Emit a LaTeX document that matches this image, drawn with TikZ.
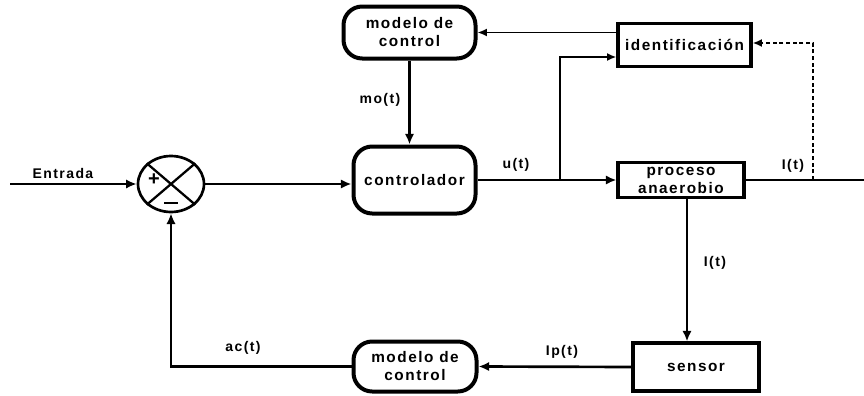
\documentclass[tikz,border=0pt]{standalone}
\usepackage{fontspec}
\setmainfont{Liberation Sans}
\newfontfamily\lblfont[LetterSpace=10]{Liberation Sans Bold}
\usetikzlibrary{arrows.meta,shapes.geometric}
\begin{document}
\begin{tikzpicture}[x=0.75pt,y=-0.75pt,
  every node/.style={font=\lblfont\fontsize{11.5}{13.5}\selectfont, inner sep=0pt},
  roundbox/.style={draw, line width=3pt, rounded corners=14pt, align=center},
  plainbox/.style={draw, line width=2.3pt, align=center},
  conn/.style={line width=2pt, -{Latex[length=8pt,width=7pt]}},
  thinconn/.style={line width=1.4pt, -{Latex[length=7pt,width=6pt]}},
  sig/.style={font=\lblfont\fontsize{10.5}{10.5}\selectfont}]
\useasboundingbox (0,0) rectangle (864,396);

% summing junction
\node[draw, ellipse, line width=2pt, minimum width=66*0.75pt, minimum height=56*0.75pt] (sum) at (171,184) {};
\draw[line width=1.7pt] (sum.north west) -- (sum.south east);
\draw[line width=1.7pt] (sum.north east) -- (sum.south west);
\node (plus) at (154,180) {\fontsize{15}{15}\selectfont +};
\coordinate (mleft) at (164,203);
\coordinate (mright) at (178,203);
\draw[line width=2pt] (mleft) -- (mright);

% blocks
\node[roundbox, minimum width=132*0.75pt, minimum height=52*0.75pt] (mtop) at (409.5,32.5) {modelo de\\control};
\node[roundbox, minimum width=122*0.75pt, minimum height=67*0.75pt] (ctrl) at (414.5,180) {controlador};
\node[plainbox, minimum width=133*0.75pt, minimum height=43*0.75pt] (ident) at (684.5,45) {identificación};
\node[plainbox, minimum width=126*0.75pt, minimum height=35*0.75pt] (proc) at (681,180) {proceso\\anaerobio};
\node[plainbox, minimum width=126*0.75pt, minimum height=48*0.75pt] (sens) at (696,367) {sensor};
\node[roundbox, minimum width=123*0.75pt, minimum height=50*0.75pt] (mbot) at (415,366.5) {modelo de\\control};

% free ends
\coordinate (in) at (10,184);
\coordinate (out) at (864,180);
\coordinate (br) at (560,180);
\coordinate (tap) at (813,180);

% forward path
\draw[conn] (in) -- (sum.west);
\draw[conn] (sum.east) -- (sum.east -| ctrl.west);
\draw[conn] (ctrl.east) -- (proc.west);
\draw[line width=2pt] (proc.east) -- (out);

% identification loop
\draw[thinconn] (br) |- ([yshift=-12*0.75pt]ident.west);
\draw[thinconn] (ident.west |- mtop.east) -- (mtop.east);
\draw[conn] (mtop.south) -- (mtop.south |- ctrl.north);
\draw[thinconn, dash pattern=on 3pt off 2pt] (tap) |- ([yshift=2*0.75pt]ident.east);

% measurement path
\draw[conn] ([xshift=6*0.75pt]proc.south) -- ([xshift=6*0.75pt]proc.south |- sens.north);
\draw[conn] (sens.west) -- (mbot.east);
\draw[conn] (mbot.west) -| (sum.south);

% signal labels
\node[sig] (lin) at (63,173) {Entrada};
\node[sig] (lmo) at (380,100) {mo(t)};
\node[sig] (lu) at (516,165) {u(t)};
\node[sig] (lout) at (793,166) {I(t)};
\node[sig] (lmeas) at (715,263) {I(t)};
\node[sig] (lip) at (562,352) {Ip(t)};
\node[sig] (lac) at (243,348) {ac(t)};
\end{tikzpicture}
\end{document}
